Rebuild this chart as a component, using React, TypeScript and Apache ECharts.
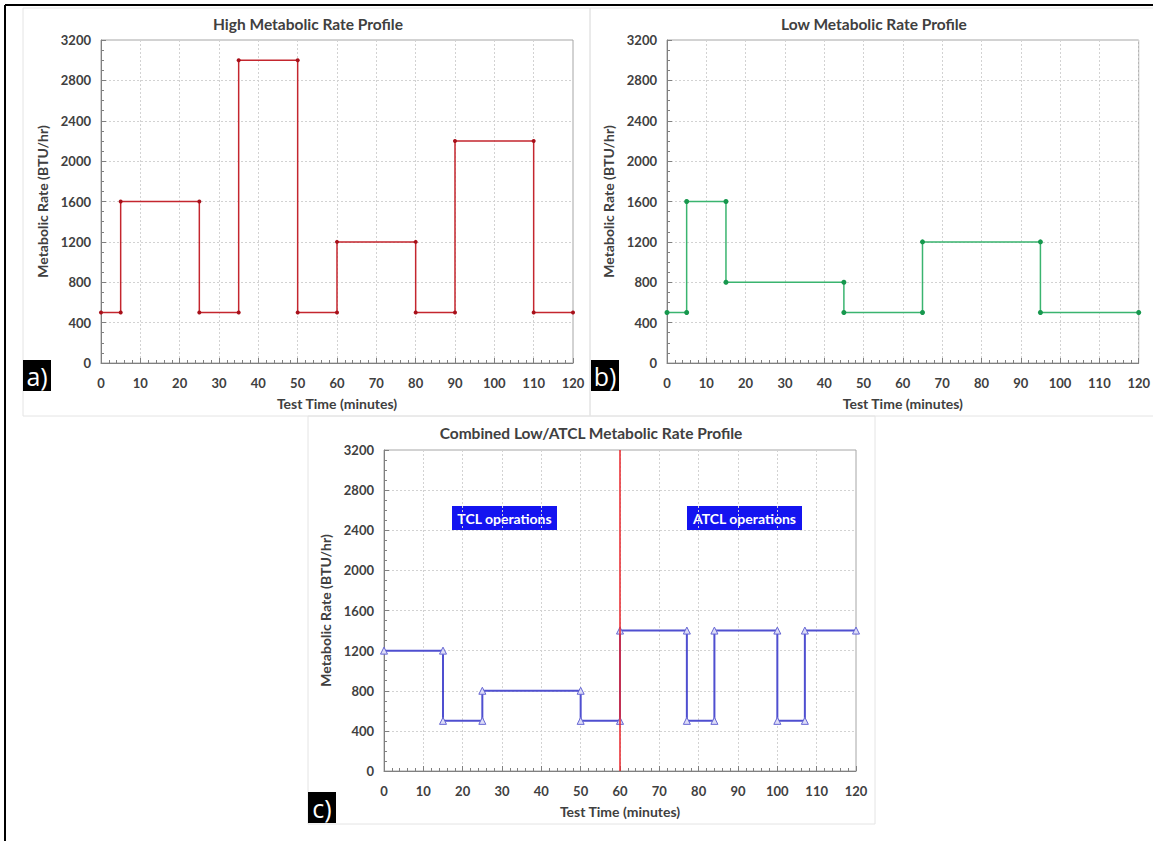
import React, { useEffect, useRef } from "react";
import * as echarts from "echarts";

// ---- Data (time in minutes, metabolic rate in BTU/hr) ----
const highProfile: number[][] = [
  [0, 500], [5, 500], [5, 1600], [25, 1600], [25, 500], [35, 500], [35, 3000],
  [50, 3000], [50, 500], [60, 500], [60, 1200], [80, 1200], [80, 500], [90, 500],
  [90, 2200], [110, 2200], [110, 500], [120, 500],
];
const lowProfile: number[][] = [
  [0, 500], [5, 500], [5, 1600], [15, 1600], [15, 800], [45, 800], [45, 500],
  [65, 500], [65, 1200], [95, 1200], [95, 500], [120, 500],
];
const combinedProfile: number[][] = [
  [0, 1200], [15, 1200], [15, 500], [25, 500], [25, 800], [50, 800], [50, 500],
  [60, 500], [60, 1400], [77, 1400], [77, 500], [84, 500], [84, 1400], [100, 1400],
  [100, 500], [107, 500], [107, 1400], [120, 1400],
];
const switchTime = 60;
const timeMin = 0;
const timeMax = 120;
const timeStep = 10;
const rateMin = 0;
const rateMax = 3200;
const rateStep = 400;
const chartTitles = [
  "High Metabolic Rate Profile",
  "Low Metabolic Rate Profile",
  "Combined Low/ATCL Metabolic Rate Profile",
];
const panelLabels = ["a)", "b)", "c)"];
const operationLabels = ["TCL operations", "ATCL operations"];
const xAxisTitle = "Test Time (minutes)";
const yAxisTitle = "Metabolic Rate (BTU/hr)";

const FONT = "Lato, 'Noto Sans', sans-serif";
const TXT = "#404040";
const AXIS = "#808080";

function xAxisFor(gridIndex: number) {
  return {
    type: "value",
    gridIndex,
    min: timeMin,
    max: timeMax,
    interval: timeStep,
    name: xAxisTitle,
    nameLocation: "middle",
    nameGap: 33,
    nameTextStyle: { fontFamily: FONT, fontWeight: "bold", fontSize: 14, color: TXT },
    axisLine: { show: true, onZero: false, lineStyle: { color: AXIS, width: 1 } },
    axisTick: { show: true, inside: true, length: 5, lineStyle: { color: AXIS } },
    minorTick: { show: true, splitNumber: 5, length: 3, lineStyle: { color: AXIS } },
    axisLabel: {
      fontFamily: FONT, fontWeight: "bold", fontSize: 13, color: TXT, margin: 13,
      formatter: (v: number) => String(v),
    },
    splitLine: { show: true, lineStyle: { color: "#d2d2d2", type: [2, 2] } },
  };
}

function yAxisFor(gridIndex: number) {
  return {
    type: "value",
    gridIndex,
    min: rateMin,
    max: rateMax,
    interval: rateStep,
    name: yAxisTitle,
    nameLocation: "middle",
    nameGap: 52,
    nameTextStyle: { fontFamily: FONT, fontWeight: "bold", fontSize: 14, color: TXT },
    axisLine: { show: true, onZero: false, lineStyle: { color: AXIS, width: 1 } },
    axisTick: { show: true, inside: true, length: 5, lineStyle: { color: AXIS } },
    minorTick: { show: true, splitNumber: 4, length: 3, lineStyle: { color: AXIS } },
    axisLabel: {
      fontFamily: FONT, fontWeight: "bold", fontSize: 13, color: TXT, margin: 10,
      formatter: (v: number) => String(v),
    },
    splitLine: { show: true, lineStyle: { color: "#d2d2d2", type: [2, 2] } },
  };
}

function panelLabel(text: string, x: number, y: number) {
  return {
    type: "group",
    x,
    y,
    children: [
      { type: "rect", shape: { x: 0, y: 0, width: 28, height: 31 }, style: { fill: "#000" } },
      {
        type: "text",
        x: 14,
        y: 15.5,
        style: {
          text,
          fill: "#fff",
          fontSize: 25,
          fontFamily: "'Open Sans', sans-serif",
          align: "center",
          verticalAlign: "middle",
        },
      },
    ],
  };
}

function opBox(text: string, x: number, y: number, w: number, h: number) {
  return {
    type: "group",
    x,
    y,
    children: [
      { type: "rect", shape: { x: 0, y: 0, width: w, height: h }, style: { fill: "#1414f0" } },
      {
        type: "text",
        x: w / 2,
        y: h / 2,
        style: {
          text,
          fill: "#fff",
          fontSize: 14,
          fontWeight: "bold",
          fontFamily: FONT,
          align: "center",
          verticalAlign: "middle",
        },
      },
    ],
  };
}

function titleText(text: string, x: number, y: number) {
  return {
    type: "text",
    x,
    y,
    style: {
      text,
      fill: TXT,
      fontSize: 15.5,
      fontWeight: "bold",
      fontFamily: FONT,
      align: "center",
      verticalAlign: "middle",
    },
  };
}

export default function App() {
  const ref = useRef<HTMLDivElement>(null);
  useEffect(() => {
    if (!ref.current) return;
    const chart = echarts.init(ref.current, undefined, { renderer: "svg" });
    chart.setOption({
      animation: false,
      backgroundColor: "#ffffff",
      grid: [
        { left: 101, top: 40, width: 472, height: 323, show: true, borderColor: "#a6a6a6", borderWidth: 1 },
        { left: 667, top: 40, width: 472, height: 323, show: true, borderColor: "#a6a6a6", borderWidth: 1 },
        { left: 384, top: 450, width: 472, height: 321, show: true, borderColor: "#a6a6a6", borderWidth: 1 },
      ],
      xAxis: [xAxisFor(0), xAxisFor(1), xAxisFor(2)],
      yAxis: [yAxisFor(0), yAxisFor(1), yAxisFor(2)],
      series: [
        {
          type: "line",
          xAxisIndex: 0,
          yAxisIndex: 0,
          data: highProfile,
          symbol: "circle",
          symbolSize: 4,
          lineStyle: { color: "#c4262e", width: 1.5 },
          itemStyle: { color: "#a8101a" },
          z: 3,
        },
        {
          type: "line",
          xAxisIndex: 1,
          yAxisIndex: 1,
          data: lowProfile,
          symbol: "circle",
          symbolSize: 5,
          lineStyle: { color: "#3ab46f", width: 1.5 },
          itemStyle: { color: "#17984e" },
          z: 3,
        },
        {
          type: "line",
          xAxisIndex: 2,
          yAxisIndex: 2,
          data: combinedProfile,
          symbol: "triangle",
          symbolSize: 7,
          lineStyle: { color: "#4f4fd0", width: 2 },
          itemStyle: { color: "#dcdcf6", borderColor: "#6666d4", borderWidth: 1 },
          z: 4,
          markLine: {
            silent: true,
            symbol: ["none", "none"],
            label: { show: false },
            lineStyle: { color: "#e8262b", width: 1.5, type: "solid" },
            data: [{ xAxis: switchTime }],
          },
        },
      ],
      graphic: [
        { type: "rect", z: -10, shape: { x: 23, y: 8, width: 567, height: 408 }, style: { fill: "none", stroke: "#e4e4e4", lineWidth: 1 } },
        { type: "rect", z: -10, shape: { x: 590, y: 8, width: 570, height: 408 }, style: { fill: "none", stroke: "#e4e4e4", lineWidth: 1 } },
        { type: "rect", z: -10, shape: { x: 308, y: 416, width: 567, height: 408 }, style: { fill: "none", stroke: "#e4e4e4", lineWidth: 1 } },
        { type: "line", shape: { x1: 5, y1: 5, x2: 1153, y2: 5 }, style: { stroke: "#000", lineWidth: 2 } },
        { type: "line", shape: { x1: 5, y1: 5, x2: 5, y2: 841 }, style: { stroke: "#000", lineWidth: 2 } },
        titleText(chartTitles[0], 308, 24),
        titleText(chartTitles[1], 874, 24),
        titleText(chartTitles[2], 591, 433),
        panelLabel(panelLabels[0], 23, 360),
        panelLabel(panelLabels[1], 591, 360),
        panelLabel(panelLabels[2], 308, 792),
        opBox(operationLabels[0], 452, 506, 105, 24),
        opBox(operationLabels[1], 687, 506, 115, 24),
      ],
    });
    return () => chart.dispose();
  }, []);
  return (
    <div
      ref={ref}
      style={{ position: "absolute", left: 0, top: 0, width: 1153, height: 841 }}
    />
  );
}
